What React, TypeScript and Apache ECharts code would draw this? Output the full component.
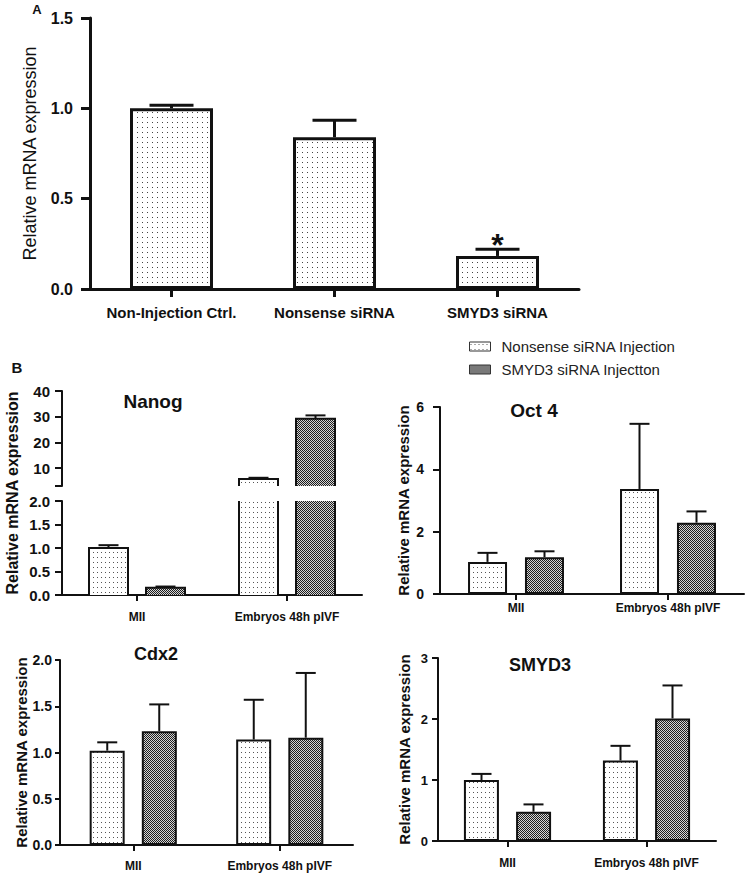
import React, { useEffect, useRef } from "react";
import * as echarts from "echarts";

const FONT = "'Liberation Sans', Arial, Helvetica, sans-serif";
const INK = "#111111";

// ---------- Panel A ----------
const categoriesA = ["Non-Injection Ctrl.", "Nonsense siRNA", "SMYD3 siRNA"];
const meansA = [1.0, 0.84, 0.183];
const upperA = [1.017, 0.934, 0.22];
const significanceA = ["", "", "*"];
const yMaxA = 1.5;
const yStepA = 0.5;

// ---------- Panel B ----------
const stagesB = ["MII", "Embryos 48h pIVF"];
const seriesNamesB = ["Nonsense siRNA Injection", "SMYD3 siRNA Injectton"];

// Nanog (broken axis)
const nanogNonsense = [1.0, 5.7];
const nanogNonsenseUpper = [1.06, 6.2];
const nanogSmyd3 = [0.155, 29.2];
const nanogSmyd3Upper = [0.18, 30.5];
const nanogLowerMax = 2;
const nanogLowerStep = 0.5;
const nanogUpperMin = 3;
const nanogUpperMax = 40;
const nanogUpperTicks = [10, 20, 30, 40];

// Oct 4
const oct4Nonsense = [1.03, 3.37];
const oct4NonsenseUpper = [1.32, 5.46];
const oct4Smyd3 = [1.18, 2.29];
const oct4Smyd3Upper = [1.37, 2.65];
const oct4Max = 6;
const oct4Step = 2;

// Cdx2
const cdx2Nonsense = [1.02, 1.14];
const cdx2NonsenseUpper = [1.11, 1.57];
const cdx2Smyd3 = [1.23, 1.16];
const cdx2Smyd3Upper = [1.52, 1.86];
const cdx2Max = 2;
const cdx2Step = 0.5;

// SMYD3
const smyd3Nonsense = [1.0, 1.32];
const smyd3NonsenseUpper = [1.1, 1.56];
const smyd3Smyd3 = [0.48, 2.01];
const smyd3Smyd3Upper = [0.6, 2.55];
const smyd3Max = 3;
const smyd3Step = 1;

function makePattern(w: number, h: number, paint: (ctx: CanvasRenderingContext2D) => void) {
  const c = document.createElement("canvas");
  c.width = w;
  c.height = h;
  const ctx = c.getContext("2d") as CanvasRenderingContext2D;
  paint(ctx);
  return { image: c.toDataURL(), repeat: "repeat", imageWidth: w, imageHeight: h } as any;
}

export default function App() {
  const ref = useRef<HTMLDivElement>(null);

  useEffect(() => {
    if (!ref.current) return;
    const chart = echarts.init(ref.current, undefined, { renderer: "svg" });

    const lightA = makePattern(5, 5, (ctx) => {
      ctx.fillStyle = "#ffffff";
      ctx.fillRect(0, 0, 5, 5);
      ctx.fillStyle = "#444444";
      ctx.fillRect(2, 2, 1, 1);
    });
    const light = makePattern(4, 5, (ctx) => {
      ctx.fillStyle = "#ffffff";
      ctx.fillRect(0, 0, 4, 5);
      ctx.fillStyle = "#555555";
      ctx.fillRect(1, 2, 1, 1);
    });
    const dense = makePattern(2, 2, (ctx) => {
      ctx.fillStyle = "#d4d4d4";
      ctx.fillRect(0, 0, 2, 2);
      ctx.fillStyle = "#1e1e1e";
      ctx.fillRect(0, 0, 1, 1);
      ctx.fillRect(1, 1, 1, 1);
    });
    const fills = [light, dense];

    const fmt1 = (v: number) => v.toFixed(1);
    const fmt0 = (v: number) => String(Math.round(v));

    const xAx = (gi: number, data: string[], o: any) => ({
      type: "category",
      gridIndex: gi,
      data,
      show: o.show !== false,
      axisLine: { show: true, onZero: false, lineStyle: { color: INK, width: o.lw } },
      axisTick: { show: true, alignWithLabel: true, length: o.tl, lineStyle: { color: INK, width: o.lw } },
      axisLabel: {
        show: true,
        interval: 0,
        color: INK,
        fontFamily: FONT,
        fontWeight: "bold",
        fontSize: o.fs,
        margin: o.margin,
      },
      splitLine: { show: false },
    });

    const yAx = (gi: number, o: any) => ({
      type: "value",
      gridIndex: gi,
      min: o.min,
      max: o.max,
      interval: o.interval,
      name: o.name,
      nameLocation: "middle",
      nameGap: o.nameGap,
      nameTextStyle: {
        fontFamily: FONT,
        fontSize: o.nfs,
        fontWeight: o.nfw,
        color: INK,
      },
      axisLine: { show: true, lineStyle: { color: INK, width: o.lw } },
      axisTick: {
        show: true,
        length: o.tl,
        lineStyle: { color: INK, width: o.lw },
        ...(o.tickValues ? { customValues: o.tickValues } : {}),
      },
      axisLabel: {
        color: INK,
        fontFamily: FONT,
        fontWeight: "bold",
        fontSize: o.fs,
        margin: o.margin,
        formatter: o.fmt,
        ...(o.labelValues ? { customValues: o.labelValues } : {}),
      },
      splitLine: { show: false },
    });

    const errorSeries = (
      gi: number,
      means: number[],
      uppers: number[],
      offset: number,
      capW: number,
      lw: number,
      marks?: string[]
    ) => ({
      type: "custom",
      xAxisIndex: gi,
      yAxisIndex: gi,
      silent: true,
      z: 4,
      data: means.map((m, i) => [i, m, uppers[i]]),
      encode: { x: 0, y: [1, 2] },
      renderItem: (params: any, api: any) => {
        const c = api.value(0);
        const p0 = api.coord([c, api.value(1)]);
        const p1 = api.coord([c, api.value(2)]);
        const x = p0[0] + offset;
        const st = { stroke: INK, lineWidth: lw };
        const children: any[] = [
          { type: "line", shape: { x1: x, y1: p0[1], x2: x, y2: p1[1] }, style: st },
          { type: "line", shape: { x1: x - capW / 2, y1: p1[1], x2: x + capW / 2, y2: p1[1] }, style: st },
        ];
        const mark = marks ? marks[c] : "";
        if (mark) {
          children.push({
            type: "text",
            x,
            y: p1[1] - 4,
            style: {
              text: mark,
              fill: INK,
              fontSize: 32,
              fontWeight: "bold",
              fontFamily: FONT,
              align: "center",
              verticalAlign: "middle",
            },
          });
        }
        return { type: "group", children };
      },
    });

    const barSeries = (gi: number, name: string, data: number[], fill: any, barW: number, gap: string, bw: number) => ({
      type: "bar",
      name,
      xAxisIndex: gi,
      yAxisIndex: gi,
      data,
      barWidth: barW,
      barGap: gap,
      z: 2,
      itemStyle: { color: fill, borderColor: INK, borderWidth: bw },
      emphasis: { disabled: true },
    });

    const NANOG_W = 39;
    const NANOG_GAP = 18;
    const brokenBars = (gi: number, values: number[], uppers: number[], fill: any, offset: number) => ({
      type: "custom",
      name: "nanog-" + gi + "-" + offset,
      xAxisIndex: gi,
      yAxisIndex: gi,
      silent: true,
      z: 3,
      data: values.map((v, i) => [i, v, uppers[i]]),
      encode: { x: 0, y: [1, 2] },
      renderItem: (params: any, api: any) => {
        const cs = params.coordSys;
        const c = api.value(0);
        const base = api.coord([c, 0]);
        const top = api.coord([c, api.value(1)]);
        const errTop = api.coord([c, api.value(2)]);
        const gTop = cs.y;
        const gBot = cs.y + cs.height;
        const yB = Math.min(base[1], gBot);
        const yT = Math.max(top[1], gTop);
        if (yT >= yB) return null;
        const xc = base[0] + offset;
        const xL = xc - NANOG_W / 2;
        const xR = xc + NANOG_W / 2;
        const st = { stroke: INK, lineWidth: 2, fill: "none" };
        const topVisible = top[1] >= gTop;
        const ch: any[] = [{ type: "rect", shape: { x: xL, y: yT, width: xR - xL, height: yB - yT }, style: { fill } }];
        if (topVisible) {
          ch.push({
            type: "polyline",
            shape: { points: [[xL, yB], [xL, yT], [xR, yT], [xR, yB]] },
            style: st,
          });
          if (errTop[1] >= gTop - 1) {
            ch.push({ type: "line", shape: { x1: xc, y1: yT, x2: xc, y2: errTop[1] }, style: st });
            ch.push({ type: "line", shape: { x1: xc - 10, y1: errTop[1], x2: xc + 10, y2: errTop[1] }, style: st });
          }
        } else {
          ch.push({ type: "line", shape: { x1: xL, y1: yB, x2: xL, y2: yT }, style: st });
          ch.push({ type: "line", shape: { x1: xR, y1: yB, x2: xR, y2: yT }, style: st });
        }
        return { type: "group", children: ch };
      },
    });

    const nanogOff = (NANOG_W + NANOG_GAP) / 2;
    const oct4Off = (39 + 18) / 2;
    const cdxOff = (35 + 17) / 2;
    const smyOff = (35 + 17) / 2;

    const titleText = (text: string, x: number, y: number, size: number) => ({
      type: "text",
      x,
      y,
      style: { text, fill: INK, fontFamily: FONT, fontWeight: "bold", fontSize: size, align: "center", verticalAlign: "middle" },
    });

    const option: any = {
      animation: false,
      backgroundColor: "#ffffff",
      grid: [
        { left: 90, top: 18, width: 489, height: 271 },
        { left: 62, top: 391, width: 300, height: 95 },
        { left: 62, top: 501, width: 300, height: 94 },
        { left: 440, top: 407, width: 304, height: 187 },
        { left: 60, top: 660, width: 293, height: 185 },
        { left: 438, top: 658, width: 278, height: 183 },
      ],
      xAxis: [
        xAx(0, categoriesA, { lw: 3, tl: 8, fs: 15, margin: 16 }),
        { ...xAx(1, stagesB, { lw: 2, tl: 6, fs: 12, margin: 16 }), show: false },
        xAx(2, stagesB, { lw: 2, tl: 6, fs: 12, margin: 16 }),
        xAx(3, stagesB, { lw: 2, tl: 6, fs: 12, margin: 8 }),
        xAx(4, stagesB, { lw: 2, tl: 6, fs: 12, margin: 15 }),
        xAx(5, stagesB, { lw: 2, tl: 6, fs: 12, margin: 16 }),
      ],
      yAxis: [
        yAx(0, {
          min: 0, max: yMaxA, interval: yStepA, name: "Relative mRNA expression", nameGap: 51,
          nfs: 18, nfw: "normal", lw: 3, tl: 9, fs: 16, margin: 17, fmt: fmt1,
        }),
        yAx(1, {
          min: nanogUpperMin, max: nanogUpperMax, lw: 2, tl: 7, fs: 15, margin: 12, fmt: fmt0,
          labelValues: nanogUpperTicks, tickValues: [nanogUpperMin, ...nanogUpperTicks],
        }),
        yAx(2, { min: 0, max: nanogLowerMax, interval: nanogLowerStep, lw: 2, tl: 7, fs: 15, margin: 12, fmt: fmt1 }),
        yAx(3, {
          min: 0, max: oct4Max, interval: oct4Step, name: "Relative mRNA expression", nameGap: 29,
          nfs: 15, nfw: "bold", lw: 2, tl: 7, fs: 14, margin: 16, fmt: fmt0,
        }),
        yAx(4, {
          min: 0, max: cdx2Max, interval: cdx2Step, name: "Relative mRNA expression", nameGap: 29,
          nfs: 15, nfw: "bold", lw: 2, tl: 5, fs: 14, margin: 8, fmt: fmt1,
        }),
        yAx(5, {
          min: 0, max: smyd3Max, interval: smyd3Step, name: "Relative mRNA expression", nameGap: 26,
          nfs: 15, nfw: "bold", lw: 2, tl: 6, fs: 13, margin: 10, fmt: fmt0,
        }),
      ],
      legend: {
        data: seriesNamesB,
        orient: "vertical",
        left: 464,
        top: 334,
        itemWidth: 21,
        itemHeight: 9,
        itemGap: 8,
        icon: "rect",
        selectedMode: false,
        itemStyle: { borderColor: "#333", borderWidth: 1 },
        textStyle: { fontFamily: FONT, fontSize: 15, color: "#222", padding: [0, 0, 0, 6] },
      },
      graphic: [
        titleText("A", 37, 9, 13),
        titleText("B", 17, 367, 15),
        titleText("Nanog", 153, 401, 19),
        titleText("Oct 4", 534, 410, 19),
        titleText("Cdx2", 156, 654, 18),
        titleText("SMYD3", 540, 665, 18),
        {
          type: "text",
          x: 12,
          y: 493,
          rotation: Math.PI / 2,
          style: {
            text: "Relative mRNA expression",
            fill: INK,
            fontFamily: FONT,
            fontWeight: "bold",
            fontSize: 16,
            align: "center",
            verticalAlign: "middle",
          },
        },
      ],
      series: [
        // Oct 4
        barSeries(3, seriesNamesB[0], oct4Nonsense, fills[0], 39, "46%", 2),
        barSeries(3, seriesNamesB[1], oct4Smyd3, fills[1], 39, "46%", 2),
        errorSeries(3, oct4Nonsense, oct4NonsenseUpper, -oct4Off, 20, 2),
        errorSeries(3, oct4Smyd3, oct4Smyd3Upper, oct4Off, 20, 2),
        // Cdx2
        barSeries(4, seriesNamesB[0], cdx2Nonsense, fills[0], 35, "49%", 2),
        barSeries(4, seriesNamesB[1], cdx2Smyd3, fills[1], 35, "49%", 2),
        errorSeries(4, cdx2Nonsense, cdx2NonsenseUpper, -cdxOff, 20, 2),
        errorSeries(4, cdx2Smyd3, cdx2Smyd3Upper, cdxOff, 20, 2),
        // SMYD3
        barSeries(5, seriesNamesB[0], smyd3Nonsense, fills[0], 35, "49%", 2),
        barSeries(5, seriesNamesB[1], smyd3Smyd3, fills[1], 35, "49%", 2),
        errorSeries(5, smyd3Nonsense, smyd3NonsenseUpper, -smyOff, 20, 2),
        errorSeries(5, smyd3Smyd3, smyd3Smyd3Upper, smyOff, 20, 2),
        // Nanog (broken axis: upper grid 1, lower grid 2)
        brokenBars(1, nanogNonsense, nanogNonsenseUpper, fills[0], -nanogOff),
        brokenBars(1, nanogSmyd3, nanogSmyd3Upper, fills[1], nanogOff),
        brokenBars(2, nanogNonsense, nanogNonsenseUpper, fills[0], -nanogOff),
        brokenBars(2, nanogSmyd3, nanogSmyd3Upper, fills[1], nanogOff),
        // Panel A
        barSeries(0, "Panel A", meansA, lightA, 83, "30%", 3),
        errorSeries(0, meansA, upperA, 0, 44, 3, significanceA),
      ],
    };

    chart.setOption(option);
    return () => chart.dispose();
  }, []);

  return (
    <div
      ref={ref}
      style={{ position: "fixed", left: 0, top: 0, width: 746, height: 873, background: "#fff" }}
    />
  );
}
